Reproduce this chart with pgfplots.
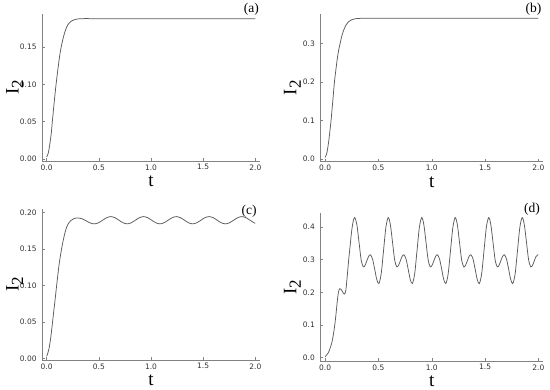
\documentclass[border=0pt]{standalone}
\usepackage{fontspec}
\setmainfont{Liberation Serif}
\newfontfamily\tickfont{DejaVu Sans}
\usepackage{pgfplots}
\pgfplotsset{compat=1.18}

\definecolor{curve}{RGB}{90,90,90}
\definecolor{axisgray}{RGB}{130,130,130}
\definecolor{ticktext}{RGB}{50,50,50}

\pgfplotsset{
  panel/.style={
    scale only axis, anchor=south west,
    axis x line*=bottom, axis y line*=left,
    axis line style={-, draw=axisgray, line width=0.7pt},
    x axis line style={-}, y axis line style={-},
    tick style={draw=axisgray, line width=0.5pt},
    tick align=inside, major tick length=2.5pt,
    xmin=-0.044, xmax=2.044,
    xtick={0,0.5,1,1.5,2},
    xticklabel style={/pgf/number format/.cd, fixed, fixed zerofill, precision=1},
    yticklabel style={xshift=-2pt},
    ticklabel style={font=\tickfont\fontsize{7.5}{8}\selectfont, text=ticktext},
    /pgf/number format/assume math mode=true,
    xlabel={t},
    ylabel={I\raisebox{-4.5pt}{\fontsize{17}{17}\selectfont 2}},
    label style={font=\fontsize{19}{19}\selectfont},
    xlabel style={at={(axis description cs:0.5,0)}, anchor=base, yshift=-26pt},
    ylabel style={at={(axis description cs:-0.108,0.5)}, anchor=base},
  },
  trace/.style={draw=curve, line width=0.75pt, smooth, mark=none},
}

\begin{document}
\begin{tikzpicture}
\path[use as bounding box] (0,0) rectangle (550pt,390pt);

% (a)
\begin{axis}[panel, at={(42.1pt,229pt)}, width=217.8pt, height=147pt,
  ymin=-0.0025, ymax=0.194, ytick={0,0.05,0.1,0.15},
  yticklabel style={/pgf/number format/.cd, fixed, fixed zerofill, precision=2}]
\addplot[trace] table {
0.000 0.003
0.015 0.008
0.030 0.020
0.045 0.036
0.054 0.050
0.072 0.076
0.090 0.100
0.110 0.123
0.130 0.143
0.150 0.157
0.170 0.168
0.190 0.176
0.210 0.181
0.240 0.1848
0.270 0.1866
0.300 0.1874
0.350 0.1878
0.450 0.1878
1.000 0.1878
2.000 0.1878
};
\end{axis}

% (b)
\begin{axis}[panel, at={(320.4pt,228.3pt)}, width=222.7pt, height=147.7pt,
  ymin=-0.007, ymax=0.376, ytick={0,0.1,0.2,0.3},
  yticklabel style={/pgf/number format/.cd, fixed, fixed zerofill, precision=1}]
\addplot[trace] table {
0.000 0.004
0.015 0.014
0.030 0.038
0.045 0.072
0.056 0.100
0.072 0.150
0.088 0.200
0.105 0.240
0.122 0.274
0.141 0.300
0.160 0.322
0.180 0.338
0.200 0.349
0.225 0.357
0.250 0.361
0.280 0.3635
0.320 0.3645
0.400 0.3648
1.000 0.3648
2.000 0.3648
};
\end{axis}

% (c)
\begin{axis}[panel, at={(42.1pt,30pt)}, width=217.8pt, height=151pt,
  ymin=-0.002, ymax=0.205, ytick={0,0.05,0.1,0.15,0.2},
  yticklabel style={/pgf/number format/.cd, fixed, fixed zerofill, precision=2}]
\addplot[trace] table {
0.000 0.003
0.020 0.012
0.040 0.030
0.060 0.055
0.080 0.080
0.100 0.106
0.120 0.130
0.140 0.148
0.160 0.163
0.180 0.175
0.200 0.183
0.230 0.189
0.260 0.1918
0.300 0.1928
0.339 0.1916
0.379 0.1887
0.418 0.1858
0.4575 0.1846
0.4968 0.1861
0.5360 0.1896
0.5753 0.1931
0.6145 0.1946
0.6538 0.1931
0.6930 0.1896
0.7323 0.1861
0.7715 0.1846
0.8108 0.1861
0.8500 0.1896
0.8893 0.1931
0.9285 0.1946
0.9678 0.1931
1.0070 0.1896
1.0463 0.1861
1.0855 0.1846
1.1248 0.1861
1.1640 0.1896
1.2033 0.1931
1.2425 0.1946
1.2818 0.1931
1.3210 0.1896
1.3603 0.1861
1.3995 0.1846
1.4388 0.1861
1.4780 0.1896
1.5173 0.1931
1.5565 0.1946
1.5958 0.1931
1.6350 0.1896
1.6743 0.1861
1.7135 0.1846
1.7528 0.1861
1.7920 0.1896
1.8313 0.1931
1.8705 0.1946
1.9098 0.1931
1.9490 0.1896
1.9883 0.1861
2.0000 0.1854
};
\end{axis}

% (d)
\begin{axis}[panel, at={(320.4pt,29pt)}, width=222.7pt, height=147.7pt,
  ymin=-0.010, ymax=0.442, ytick={0,0.1,0.2,0.3,0.4},
  yticklabel style={/pgf/number format/.cd, fixed, fixed zerofill, precision=1}]
\addplot[trace] table {
0.000 0.003
0.030 0.015
0.050 0.032
0.066 0.050
0.082 0.080
0.098 0.120
0.114 0.172
0.125 0.200
0.136 0.211
0.148 0.210
0.160 0.204
0.172 0.197
0.183 0.195
0.194 0.205
0.205 0.240
0.220 0.295
0.237 0.350
0.250 0.390
0.264 0.418
0.278 0.429
0.298 0.407
0.318 0.354
0.338 0.300
0.358 0.278
0.375 0.283
0.392 0.297
0.408 0.310
0.425 0.315
0.445 0.302
0.465 0.271
0.484 0.240
0.504 0.227
0.526 0.257
0.548 0.328
0.570 0.399
0.592 0.429
0.612 0.407
0.632 0.354
0.652 0.300
0.672 0.278
0.689 0.283
0.706 0.297
0.722 0.310
0.739 0.315
0.759 0.302
0.779 0.271
0.798 0.240
0.818 0.227
0.840 0.257
0.862 0.328
0.884 0.399
0.906 0.429
0.926 0.407
0.946 0.354
0.966 0.300
0.986 0.278
1.003 0.283
1.020 0.297
1.036 0.310
1.053 0.315
1.073 0.302
1.093 0.271
1.112 0.240
1.132 0.227
1.154 0.257
1.176 0.328
1.198 0.399
1.220 0.429
1.240 0.407
1.260 0.354
1.280 0.300
1.300 0.278
1.317 0.283
1.334 0.297
1.350 0.310
1.367 0.315
1.387 0.302
1.407 0.271
1.426 0.240
1.446 0.227
1.468 0.257
1.490 0.328
1.512 0.399
1.534 0.429
1.554 0.407
1.574 0.354
1.594 0.300
1.614 0.278
1.631 0.283
1.648 0.297
1.664 0.310
1.681 0.315
1.701 0.302
1.721 0.271
1.740 0.240
1.760 0.227
1.782 0.257
1.804 0.328
1.826 0.399
1.848 0.429
1.868 0.407
1.888 0.354
1.908 0.300
1.928 0.278
1.945 0.283
1.962 0.297
1.978 0.310
1.995 0.315
2.000 0.3148
};
\end{axis}

% panel letters
\node[anchor=east, inner sep=0pt, font=\fontsize{13.5}{14}\selectfont] at (259pt,381pt) {(a)};
\node[anchor=east, inner sep=0pt, font=\fontsize{13.5}{14}\selectfont] at (541.5pt,381pt) {(b)};
\node[anchor=east, inner sep=0pt, font=\fontsize{13.5}{14}\selectfont] at (256.7pt,179pt) {(c)};
\node[anchor=east, inner sep=0pt, font=\fontsize{13.5}{14}\selectfont] at (540pt,181pt) {(d)};
\end{tikzpicture}
\end{document}
